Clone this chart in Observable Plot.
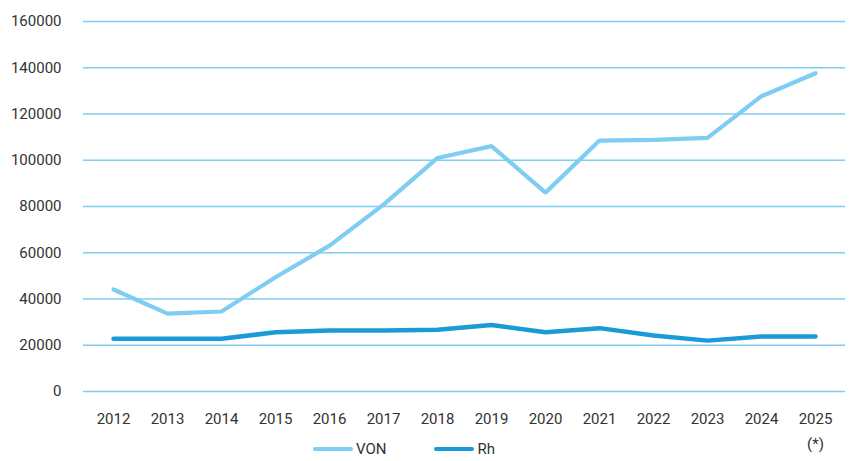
<!DOCTYPE html>
<html>
<head>
<meta charset="utf-8">
<script src="https://cdn.jsdelivr.net/npm/d3@7"></script>
<script src="https://cdn.jsdelivr.net/npm/@observablehq/plot@0.6"></script>
<style>
  html, body { margin: 0; padding: 0; background: #fff; }
  #wrap { position: relative; width: 850px; height: 461px; font-family: "Roboto", sans-serif; }
  #legend { position: absolute; left: 313px; top: 439px; height: 20px; display: flex; align-items: center; font-size: 15px; color: #333; }
  .item { display: flex; align-items: center; margin-right: 48px; }
  .sw { width: 40px; height: 4px; border-radius: 2px; margin-right: 3px; }
</style>
</head>
<body>
<div id="wrap"><div id="chart"></div><div id="legend"></div></div>
<script>
const years = ["2012","2013","2014","2015","2016","2017","2018","2019","2020","2021","2022","2023","2024","2025"];
const yearLabels = ["2012","2013","2014","2015","2016","2017","2018","2019","2020","2021","2022","2023","2024","2025\n(*)"];
const von = [44100, 33700, 34600, 49400, 63100, 80800, 101000, 106100, 86000, 108500, 108800, 109700, 127700, 137600];
const rh  = [22800, 22800, 22800, 25600, 26400, 26400, 26700, 28800, 25600, 27400, 24200, 22000, 23800, 23800];
const seriesNames = ["VON", "Rh"];
const seriesColors = ["#7fcdf2", "#1a9bd7"];
const yTicks = [0, 20000, 40000, 60000, 80000, 100000, 120000, 140000, 160000];

const data = [];
years.forEach((y, i) => {
  data.push({year: y, value: von[i], series: seriesNames[0]});
  data.push({year: y, value: rh[i], series: seriesNames[1]});
});
const labelOf = Object.fromEntries(years.map((y, i) => [y, yearLabels[i]]));

const chart = Plot.plot({
  width: 850,
  height: 461,
  marginLeft: 83,
  marginRight: 5,
  marginTop: 21,
  marginBottom: 70,
  style: {fontFamily: '"Roboto", sans-serif', fontSize: "15px", color: "#333", background: "transparent"},
  x: {type: "point", domain: years, padding: 0.5},
  y: {domain: [0, 160000]},
  color: {domain: seriesNames, range: seriesColors},
  marks: [
    Plot.gridY(yTicks, {stroke: "#7fcdf2", strokeOpacity: 1, strokeWidth: 1.6}),
    Plot.axisY(yTicks, {tickSize: 0, tickPadding: 22, tickFormat: d => String(d), fontSize: 15, fill: "#333", label: null}),
    Plot.axisX({tickSize: 0, tickPadding: 15, tickFormat: d => labelOf[d], fontSize: 15, fill: "#333", label: null, lineHeight: 1.65}),
    Plot.line(data.filter(d => d.series === "VON"), {x: "year", y: "value", stroke: seriesColors[0], strokeWidth: 4.2, strokeLinejoin: "miter", strokeLinecap: "round"}),
    Plot.line(data.filter(d => d.series === "Rh"), {x: "year", y: "value", stroke: seriesColors[1], strokeWidth: 4.5, strokeLinejoin: "miter", strokeLinecap: "round"})
  ]
});
document.getElementById("chart").appendChild(chart);

const legend = document.getElementById("legend");
seriesNames.forEach((n, i) => {
  const it = document.createElement("div");
  it.className = "item";
  const sw = document.createElement("div");
  sw.className = "sw";
  sw.style.background = seriesColors[i];
  const t = document.createElement("span");
  t.textContent = n;
  it.appendChild(sw); it.appendChild(t);
  legend.appendChild(it);
});
</script>
</body>
</html>
